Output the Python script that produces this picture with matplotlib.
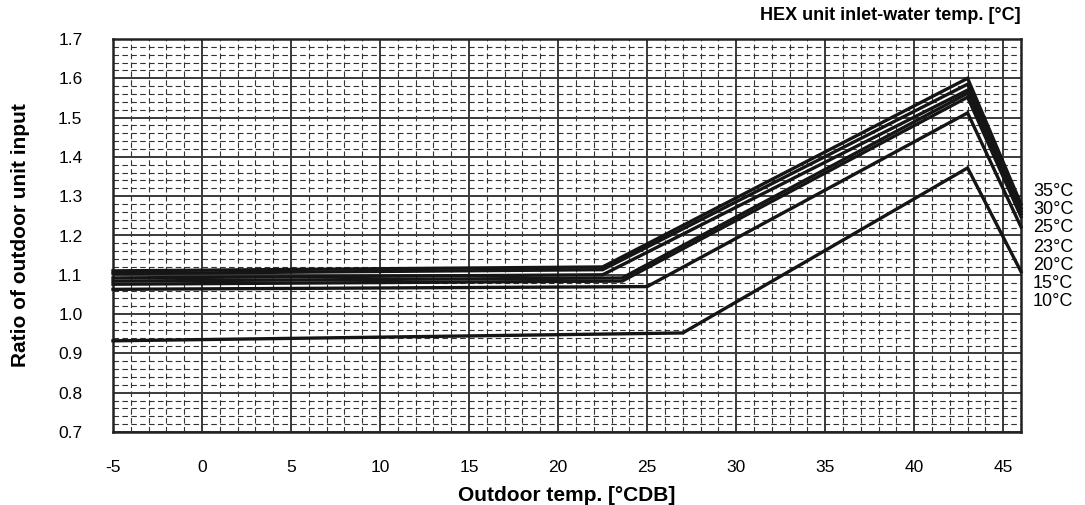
import matplotlib
matplotlib.use("Agg")
import matplotlib.pyplot as plt
from matplotlib.ticker import MultipleLocator

plt.rcParams['font.family'] = ['Liberation Sans', 'DejaVu Sans']
plt.rcParams['axes.unicode_minus'] = False

series_labels = ["35°C", "30°C", "25°C", "23°C", "20°C", "15°C", "10°C"]
x_35 = [-5, 22.5, 43, 46]; y_35 = [1.110, 1.120, 1.600, 1.280]
x_30 = [-5, 22.5, 43, 46]; y_30 = [1.103, 1.113, 1.585, 1.270]
x_25 = [-5, 22.5, 43, 46]; y_25 = [1.092, 1.100, 1.570, 1.262]
x_23 = [-5, 23.6, 43, 46]; y_23 = [1.084, 1.092, 1.562, 1.255]
x_20 = [-5, 23.6, 43, 46]; y_20 = [1.076, 1.084, 1.552, 1.248]
x_15 = [-5, 25.0, 43, 46]; y_15 = [1.063, 1.070, 1.512, 1.222]
x_10 = [-5, 27.0, 43, 46]; y_10 = [0.932, 0.952, 1.372, 1.108]

xs = [x_35, x_30, x_25, x_23, x_20, x_15, x_10]
ys = [y_35, y_30, y_25, y_23, y_20, y_15, y_10]

x_ticks = [-5, 0, 5, 10, 15, 20, 25, 30, 35, 40, 45]
y_ticks = [0.7, 0.8, 0.9, 1.0, 1.1, 1.2, 1.3, 1.4, 1.5, 1.6, 1.7]

fig = plt.figure(figsize=(10.85, 5.05), dpi=100)
ax = fig.add_axes([113/1085, 1-432/505, (1021-113)/1085, (432-39)/505])

ax.set_xlim(-5, 46)
ax.set_ylim(0.7, 1.7)
ax.set_xticks(x_ticks)
ax.set_xticklabels([str(v) for v in x_ticks])
ax.set_yticks(y_ticks)
ax.set_yticklabels([f"{v:.1f}" for v in y_ticks])
ax.xaxis.set_minor_locator(MultipleLocator(1))
ax.yaxis.set_minor_locator(MultipleLocator(0.02))
ax.grid(which='major', color='#3a3a3a', linewidth=1.4, linestyle='-')
ax.grid(which='minor', color='#333333', linewidth=0.8, linestyle=(0, (5, 3)))
ax.set_axisbelow(True)
ax.tick_params(which='both', length=0)
ax.tick_params(axis='x', labelsize=12.5, pad=20)
ax.tick_params(axis='y', labelsize=12.5, pad=22)
for s in ax.spines.values():
    s.set_linewidth(1.8)
    s.set_color('#222222')

for x, y in zip(xs, ys):
    ax.plot(x, y, color='#151515', linewidth=2.4, solid_joinstyle='miter', clip_on=False, zorder=3)

label_y = [192, 210, 228, 247, 265, 283, 302]
for lab, py in zip(series_labels, label_y):
    fig.text(1033/1085, 1-py/505, lab, fontsize=13, va='center', ha='left')

ax.set_xlabel("Outdoor temp. [°CDB]", fontsize=15, fontweight='bold', labelpad=8)
ax.set_ylabel("Ratio of outdoor unit input", fontsize=15, fontweight='bold', labelpad=20)
fig.text(1021/1085, 1-15/505, "HEX unit inlet-water temp. [°C]", fontsize=13,
         fontweight='bold', ha='right', va='center')

fig.savefig("out.png", dpi=100)
